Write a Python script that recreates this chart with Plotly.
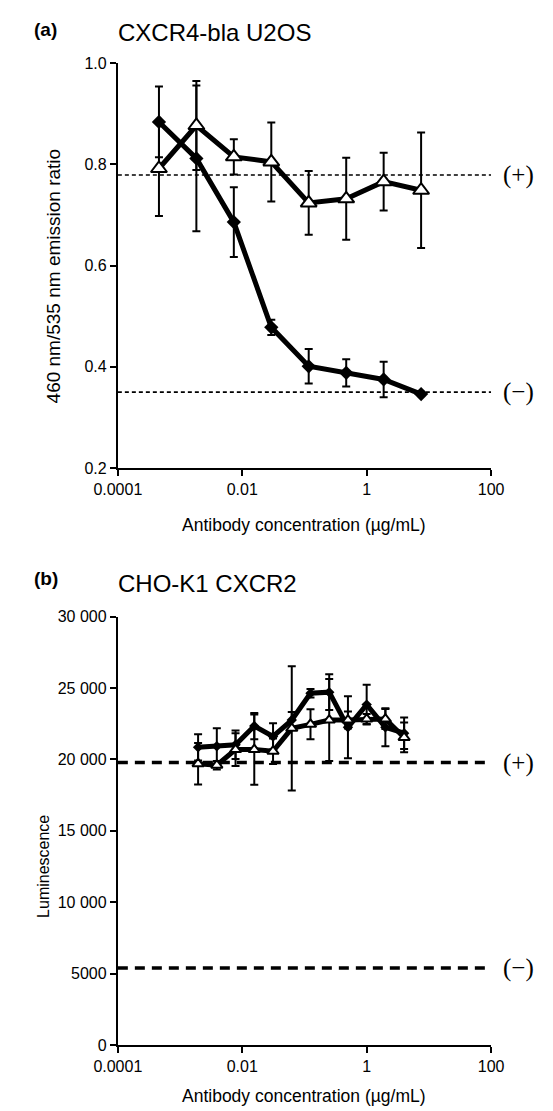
import plotly.graph_objects as go

# ---------------- data ----------------
# panel (a) CXCR4-bla U2OS
top_conc = [0.000458, 0.00183, 0.00732, 0.0293, 0.117, 0.469, 1.875, 7.5]
top_filled = [0.884, 0.812, 0.686, 0.478, 0.401, 0.388, 0.375, 0.346]
top_filled_err = [0.070, 0.144, 0.069, 0.015, 0.034, 0.027, 0.035, 0.0]
top_open = [0.792, 0.877, 0.815, 0.805, 0.724, 0.732, 0.766, 0.749]
top_open_err = [0.094, 0.088, 0.035, 0.078, 0.063, 0.081, 0.057, 0.114]
top_pos_ctrl = 0.779
top_neg_ctrl = 0.350

# panel (b) CHO-K1 CXCR2
bot_conc = [0.00195, 0.0039, 0.0078, 0.0156, 0.03125, 0.0625, 0.125, 0.25, 0.5, 1, 2, 4]
bot_filled = [20850, 20920, 21030, 22340, 21610, 22760, 24640, 24710, 22250, 23840, 22250, 21840]
bot_filled_err = [920, 1260, 1000, 920, 920, 570, 300, 1250, 2170, 1400, 1330, 1100]
bot_open = [19700, 19600, 20690, 20690, 20575, 22180, 22460, 22760, 22760, 22830, 22830, 21540]
bot_open_err = [1450, 300, 1150, 2460, 900, 4350, 1050, 2870, 600, 350, 700, 1040]
bot_pos_ctrl = 19780
bot_neg_ctrl = 5400

x_tickvals = [0.0001, 0.01, 1, 100]
x_ticktext = ["0.0001", "0.01", "1", "100"]
top_y_tickvals = [0.2, 0.4, 0.6, 0.8, 1.0]
top_y_ticktext = ["0.2", "0.4", "0.6", "0.8", "1.0"]
bot_y_tickvals = [0, 5000, 10000, 15000, 20000, 25000, 30000]
bot_y_ticktext = ["0", "5000", "10 000", "15 000", "20 000", "25 000", "30 000"]
x_span = [0.0001, 100]

W, H = 553, 1111
FONT = "Arial, 'Liberation Sans', sans-serif"
SERIF = "'Liberation Serif', 'Times New Roman', serif"

def px_x(p):
    return p / W

def px_y(p):
    return 1 - p / H

fig = go.Figure()

def add_panel(xa, ya, conc, filled, ferr, opn, oerr, pos, neg, dash_w, dash, dsize, tsize, lw):
    for v in (pos, neg):
        fig.add_trace(go.Scatter(x=x_span, y=[v, v], mode="lines", xaxis=xa, yaxis=ya,
                                 line=dict(color="black", width=dash_w, dash=dash),
                                 hoverinfo="skip", cliponaxis=False))
    fig.add_trace(go.Scatter(
        x=conc, y=filled, mode="lines+markers", xaxis=xa, yaxis=ya, cliponaxis=False,
        line=dict(color="black", width=lw),
        marker=dict(symbol="diamond", size=dsize, color="black"),
        error_y=dict(type="data", array=ferr, color="black", thickness=2, width=4)))
    fig.add_trace(go.Scatter(
        x=conc, y=opn, mode="lines+markers", xaxis=xa, yaxis=ya, cliponaxis=False,
        line=dict(color="black", width=lw),
        marker=dict(symbol="triangle-up", size=tsize, color="white",
                    line=dict(color="black", width=2)),
        error_y=dict(type="data", array=oerr, color="black", thickness=2, width=4)))

add_panel("x", "y", top_conc, top_filled, top_filled_err, top_open, top_open_err,
          top_pos_ctrl, top_neg_ctrl, 1.6, "4px,3px", 11, 14, 5)
add_panel("x2", "y2", bot_conc, bot_filled, bot_filled_err, bot_open, bot_open_err,
          bot_pos_ctrl, bot_neg_ctrl, 3.5, "10px,7px", 8, 10, 5)

axis_common = dict(showline=True, linecolor="black", linewidth=2, ticks="outside",
                   ticklen=6, tickwidth=2, tickcolor="black", showgrid=False,
                   zeroline=False, tickfont=dict(family=FONT, size=16, color="black"))

x_dom = [px_x(92), px_x(492)]
fig.update_layout(
    width=W, height=H, margin=dict(l=0, r=0, t=0, b=0),
    plot_bgcolor="white", paper_bgcolor="white", showlegend=False,
    font=dict(family=FONT, color="black"),
    xaxis=dict(domain=x_dom, type="log", range=[-4, 2], tickvals=x_tickvals,
               ticktext=x_ticktext, anchor="y", **axis_common),
    yaxis=dict(domain=[px_y(459), px_y(48)], range=[0.2, 1.0], tickvals=top_y_tickvals,
               ticktext=top_y_ticktext, anchor="x", **axis_common),
    xaxis2=dict(domain=x_dom, type="log", range=[-4, 2], tickvals=x_tickvals,
                ticktext=x_ticktext, anchor="y2", **axis_common),
    yaxis2=dict(domain=[px_y(1045), px_y(610)], range=[0, 30000], tickvals=bot_y_tickvals,
                ticktext=bot_y_ticktext, anchor="x2", **axis_common),
)

ann = []
def text(x, y, s, size, xanchor="left", yanchor="middle", angle=0, family=FONT, bold=False):
    ann.append(dict(x=px_x(x), y=px_y(y), xref="paper", yref="paper",
                    text=("<b>%s</b>" % s) if bold else s,
                    showarrow=False, xanchor=xanchor, yanchor=yanchor, textangle=angle,
                    font=dict(family=family, size=size, color="black")))

# panel labels and titles
text(0, 14, "(a)", 19, bold=True)
text(90, 17, "CXCR4-bla U2OS", 24)
text(0, 571, "(b)", 19, bold=True)
text(90, 576, "CHO-K1 CXCR2", 24)

# axis titles
text(292, 517, "Antibody concentration (µg/mL)", 17.5, xanchor="center")
text(292, 1097, "Antibody concentration (µg/mL)", 17.5, xanchor="center")
text(23, 264, "460 nm/535 nm emission ratio", 19, xanchor="center", angle=-90)
text(13, 864, "Luminescence", 16, xanchor="center", angle=-90)

def ctrl(yval, yaxis_px0, yaxis_px1, vmin, vmax, s):
    ypx = yaxis_px0 - (yval - vmin) / (vmax - vmin) * (yaxis_px0 - yaxis_px1)
    text(503, ypx, s, 25, family=SERIF)

ctrl(top_pos_ctrl, 459, 48, 0.2, 1.0, "(+)")
ctrl(top_neg_ctrl, 459, 48, 0.2, 1.0, "(\u2212)")
ctrl(bot_pos_ctrl, 1045, 610, 0, 30000, "(+)")
ctrl(bot_neg_ctrl, 1045, 610, 0, 30000, "(\u2212)")

fig.update_layout(annotations=ann)
fig.write_html("out.html")
